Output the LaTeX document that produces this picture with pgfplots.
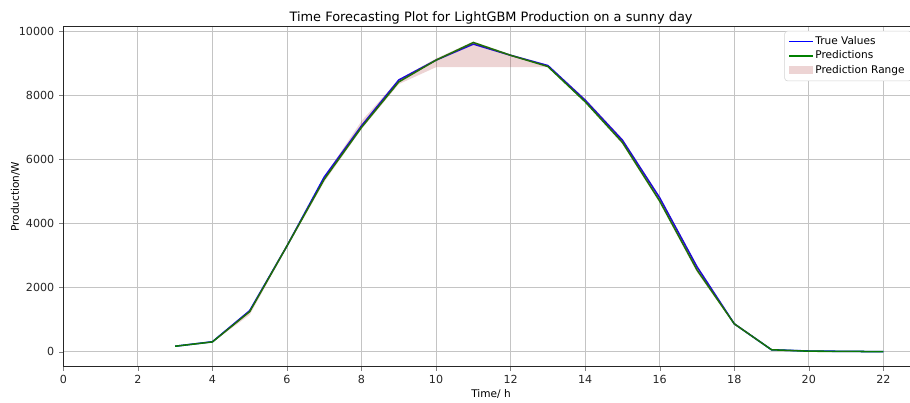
\documentclass[border=0pt]{standalone}
\usepackage{pgfplots}
\pgfplotsset{compat=1.18}
\usetikzlibrary{calc}
\usepackage{fontspec}
\setmainfont{DejaVu Sans}
\definecolor{rangebrown}{RGB}{165,42,42}
\definecolor{gridgray}{RGB}{196,196,196}
\definecolor{truecol}{RGB}{0,0,255}
\definecolor{predcol}{RGB}{0,128,0}
\pgfplotstableread{
h true pred
3 170 170
4 310 305
5 1280 1250
6 3300 3300
7 5450 5380
8 7050 7000
9 8480 8420
10 9100 9100
11 9600 9650
12 9250 9250
13 8930 8900
14 7850 7800
15 6600 6530
16 4800 4700
17 2650 2550
18 870 870
19 60 60
20 20 15
21 10 10
22 0 0
}\data
% prediction range polygon: upper bound forward, lower bound backward
\pgfplotstableread{
h r
3 180
4 320
5 1300
6 3350
7 5460
8 7200
9 8500
10 9150
11 9680
12 9280
13 8950
14 7900
15 6650
16 4850
17 2700
18 900
19 75
20 25
21 15
22 5
22 0
21 5
20 10
19 50
18 840
17 2480
16 4650
15 6480
14 7780
13 8880
12 8880
11 8880
10 8880
9 8350
8 6950
7 5300
6 3250
5 1150
4 295
3 165
}\range
\begin{document}
\begin{tikzpicture}
\begin{axis}[
  name=ax,
  scale only axis,
  width=615.9pt, height=244.8pt,
  xmin=0, xmax=22.95, ymin=-468, ymax=10144,
  xtick={0,2,...,22}, ytick={0,2000,...,10000},
  scaled y ticks=false,
  /pgf/number format/.cd, 1000 sep={}, assume math mode=true,
  /pgfplots/.cd,
  tick label style={font=\fontsize{8}{9}\selectfont, color=black!85},
  tick align=outside, tick pos=left,
  major tick length=3pt,
  grid=major,
  major grid style={gridgray, line width=0.6pt},
  axis line style={black!85, line width=0.6pt},
  title={Time Forecasting Plot for LightGBM Production on a sunny day},
  title style={font=\fontsize{9.3}{11}\selectfont, yshift=-8pt},
  xlabel={Time/ h}, ylabel={Production/W},
  label style={font=\fontsize{7.6}{9}\selectfont},
  xlabel style={yshift=3pt},
  ylabel style={yshift=-7.5pt},
  legend style={at={(rel axis cs:1,1)}, anchor=north east, xshift=-5pt, yshift=-3pt,
    draw=gray!35, fill=white, rounded corners=2pt,
    font=\fontsize{7.6}{9}\selectfont, row sep=-1pt},
  legend cell align=left,
]
\addplot[color=truecol, line width=1.1pt,
  legend image code/.code={\fill[truecol, sharp corners, draw=none] (0cm,-0.55pt) rectangle (0.6cm,0.55pt);}]
  table[x=h, y=true] {\data};
\addlegendentry{True Values}
\addplot[color=predcol, line width=1.1pt,
  legend image code/.code={\fill[predcol, sharp corners, draw=none] (0cm,-0.55pt) rectangle (0.6cm,0.55pt);}]
  table[x=h, y=pred] {\data};
\addlegendentry{Predictions}
\addplot[fill=rangebrown, fill opacity=0.2, draw=none,
  legend image code/.code={\fill[rangebrown, fill opacity=0.2, sharp corners, draw=none] (0cm,-0.1cm) rectangle (0.6cm,0.1cm);}]
  table[x=h, y=r] {\range} -- cycle;
\addlegendentry{Prediction Range}
\end{axis}
\pgfresetboundingbox
\path[use as bounding box] ($(ax.south west)+(-45.6pt,-26.1pt)$) rectangle ($(ax.south west)+(609.6pt,264.0pt)$);
\end{tikzpicture}
\end{document}
